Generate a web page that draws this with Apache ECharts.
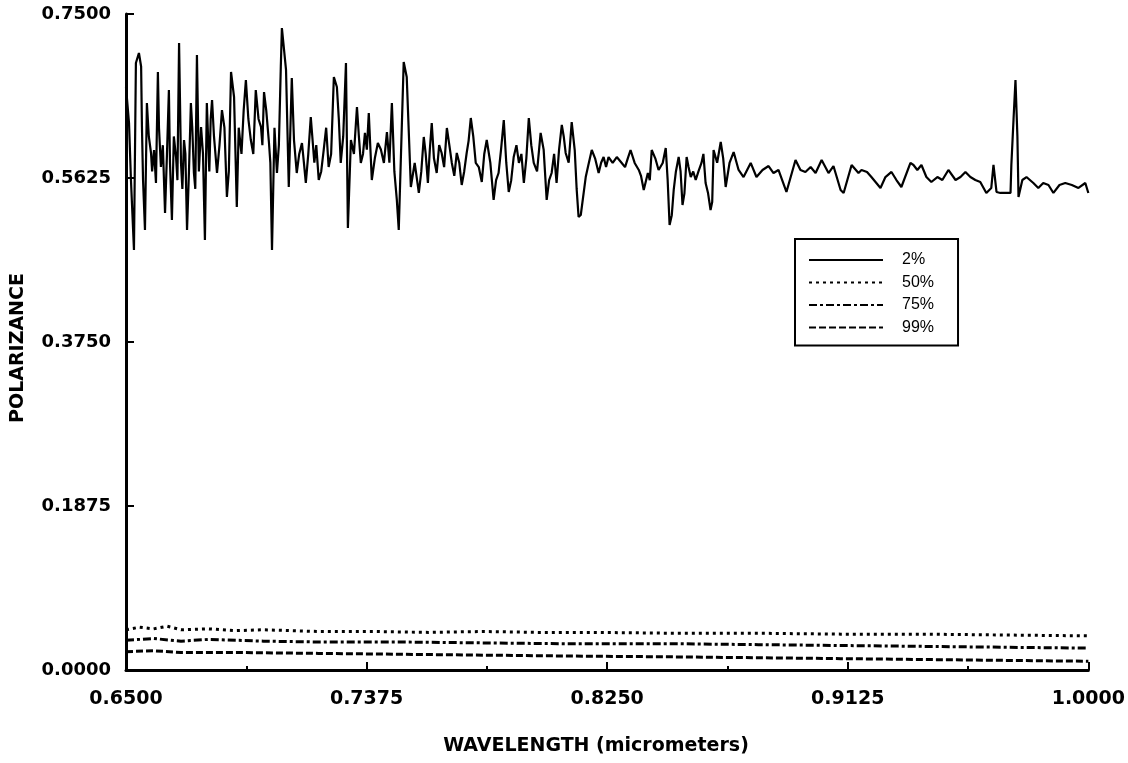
<!DOCTYPE html>
<html>
<head>
<meta charset="utf-8">
<script src="https://cdn.jsdelivr.net/npm/echarts@6/dist/echarts.min.js"></script>
<style>
html,body{margin:0;padding:0;background:#fff;}
#chart{width:1128px;height:763px;}
</style>
</head>
<body>
<div id="chart"></div>
<script>
// ---- data (wavelength in micrometers, polarizance) ----
const xTickValues = [0.65, 0.7375, 0.825, 0.9125, 1.0];
const xMinorTickValues = [0.69375, 0.78125, 0.86875, 0.95625];
const seriesNames = ['2%', '50%', '75%', '99%'];

const pol2 = [
[0.6500,0.6665],[0.6511,0.6254],[0.6518,0.5602],[0.6529,0.4802],[0.6536,0.6940],[0.6547,0.7054],[0.6555,0.6900],
[0.6558,0.6208],[0.6562,0.5600],[0.6569,0.5031],[0.6576,0.6483],[0.6583,0.6100],[0.6591,0.5911],[0.6595,0.5700],
[0.6602,0.5945],[0.6609,0.5568],[0.6616,0.6837],[0.6620,0.6200],[0.6627,0.5751],[0.6634,0.6000],[0.6642,0.5225],
[0.6649,0.5900],[0.6656,0.6631],[0.6660,0.5800],[0.6667,0.5145],[0.6674,0.6100],[0.6682,0.5865],[0.6687,0.5600],
[0.6693,0.7168],[0.6700,0.5797],[0.6705,0.5500],[0.6711,0.6059],[0.6716,0.5900],[0.6722,0.5031],[0.6729,0.5700],
[0.6736,0.6483],[0.6741,0.6200],[0.6747,0.5682],[0.6752,0.5500],[0.6758,0.7031],[0.6765,0.5700],[0.6773,0.6208],
[0.6780,0.5900],[0.6787,0.4916],[0.6794,0.6483],[0.6803,0.5700],[0.6808,0.6300],[0.6813,0.6517],[0.6820,0.6100],
[0.6831,0.5682],[0.6840,0.6000],[0.6849,0.6402],[0.6858,0.6200],[0.6867,0.5408],[0.6874,0.5700],[0.6882,0.6837],
[0.6893,0.6551],[0.6903,0.5293],[0.6910,0.6200],[0.6920,0.5900],[0.6928,0.6400],[0.6936,0.6745],[0.6945,0.6300],
[0.6954,0.6059],[0.6963,0.5900],[0.6972,0.6631],[0.6982,0.6300],[0.6991,0.6208],[0.6996,0.6000],[0.7002,0.6608],
[0.7010,0.6400],[0.7020,0.6025],[0.7025,0.5800],[0.7031,0.4802],[0.7040,0.6200],[0.7049,0.5682],[0.7056,0.6000],
[0.7063,0.6894],[0.7067,0.7340],[0.7082,0.6860],[0.7092,0.5522],[0.7103,0.6768],[0.7111,0.6059],[0.7121,0.5682],
[0.7130,0.5900],[0.7140,0.6025],[0.7147,0.5800],[0.7154,0.5568],[0.7163,0.5900],[0.7172,0.6322],[0.7185,0.5800],
[0.7192,0.6000],[0.7201,0.5602],[0.7210,0.5700],[0.7219,0.5945],[0.7228,0.6200],[0.7237,0.5751],[0.7246,0.5900],
[0.7256,0.6780],[0.7267,0.6665],[0.7274,0.6300],[0.7281,0.5797],[0.7290,0.6100],[0.7300,0.6940],[0.7307,0.5053],
[0.7318,0.6059],[0.7329,0.5900],[0.7340,0.6437],[0.7347,0.6100],[0.7354,0.5797],[0.7362,0.5900],[0.7369,0.6140],
[0.7376,0.5950],[0.7383,0.6368],[0.7394,0.5602],[0.7405,0.5850],[0.7416,0.6025],[0.7427,0.5950],[0.7438,0.5797],
[0.7449,0.6150],[0.7458,0.5800],[0.7467,0.6483],[0.7476,0.5700],[0.7485,0.5374],[0.7492,0.5031],[0.7510,0.6951],
[0.7521,0.6780],[0.7536,0.5522],[0.7550,0.5797],[0.7565,0.5454],[0.7574,0.5700],[0.7583,0.6094],[0.7590,0.5900],
[0.7598,0.5568],[0.7605,0.5950],[0.7612,0.6254],[0.7620,0.5850],[0.7630,0.5682],[0.7639,0.6000],[0.7648,0.5911],
[0.7657,0.5750],[0.7667,0.6197],[0.7676,0.6000],[0.7685,0.5797],[0.7694,0.5650],[0.7703,0.5911],[0.7712,0.5800],
[0.7721,0.5545],[0.7730,0.5700],[0.7739,0.5911],[0.7746,0.6050],[0.7754,0.6311],[0.7763,0.6100],[0.7772,0.5797],
[0.7783,0.5750],[0.7794,0.5579],[0.7803,0.5900],[0.7812,0.6059],[0.7825,0.5800],[0.7837,0.5374],[0.7846,0.5600],
[0.7855,0.5682],[0.7864,0.5950],[0.7874,0.6288],[0.7883,0.5800],[0.7892,0.5465],[0.7901,0.5600],[0.7910,0.5865],
[0.7920,0.6000],[0.7929,0.5797],[0.7938,0.5900],[0.7947,0.5568],[0.7956,0.5850],[0.7965,0.6311],[0.7974,0.6000],
[0.7983,0.5797],[0.7995,0.5700],[0.8008,0.6140],[0.8019,0.5950],[0.8030,0.5374],[0.8039,0.5600],[0.8048,0.5682],
[0.8057,0.5900],[0.8066,0.5568],[0.8075,0.5950],[0.8085,0.6231],[0.8092,0.6100],[0.8099,0.5911],[0.8110,0.5800],
[0.8121,0.6265],[0.8132,0.5945],[0.8139,0.5500],[0.8146,0.5179],[0.8154,0.5202],[0.8172,0.5636],[0.8180,0.5750],
[0.8194,0.5945],[0.8206,0.5850],[0.8219,0.5682],[0.8228,0.5800],[0.8237,0.5865],[0.8246,0.5750],[0.8255,0.5865],
[0.8270,0.5797],[0.8285,0.5865],[0.8303,0.5797],[0.8315,0.5750],[0.8325,0.5850],[0.8335,0.5945],[0.8350,0.5797],
[0.8365,0.5717],[0.8373,0.5650],[0.8383,0.5488],[0.8398,0.5682],[0.8405,0.5600],[0.8412,0.5945],[0.8425,0.5850],
[0.8437,0.5717],[0.8452,0.5797],[0.8463,0.5968],[0.8470,0.5600],[0.8477,0.5088],[0.8485,0.5200],[0.8492,0.5488],
[0.8500,0.5700],[0.8510,0.5865],[0.8517,0.5700],[0.8524,0.5316],[0.8531,0.5450],[0.8539,0.5865],[0.8546,0.5750],
[0.8554,0.5636],[0.8563,0.5700],[0.8572,0.5602],[0.8582,0.5700],[0.8593,0.5797],[0.8600,0.5900],[0.8608,0.5568],
[0.8617,0.5450],[0.8626,0.5259],[0.8632,0.5350],[0.8637,0.5945],[0.8650,0.5800],[0.8663,0.6037],[0.8672,0.5850],
[0.8681,0.5522],[0.8695,0.5797],[0.8710,0.5922],[0.8728,0.5717],[0.8746,0.5636],[0.8772,0.5797],[0.8793,0.5636],
[0.8815,0.5717],[0.8837,0.5762],[0.8855,0.5682],[0.8873,0.5717],[0.8902,0.5465],[0.8935,0.5831],[0.8953,0.5717],
[0.8971,0.5694],[0.8990,0.5751],[0.9008,0.5682],[0.9030,0.5831],[0.9055,0.5682],[0.9073,0.5762],[0.9099,0.5488],
[0.9110,0.5454],[0.9139,0.5774],[0.9164,0.5682],[0.9175,0.5717],[0.9195,0.5694],[0.9211,0.5636],[0.9244,0.5511],
[0.9262,0.5636],[0.9284,0.5694],[0.9302,0.5602],[0.9320,0.5522],[0.9353,0.5797],[0.9364,0.5774],[0.9378,0.5717],
[0.9393,0.5774],[0.9411,0.5636],[0.9429,0.5579],[0.9451,0.5636],[0.9469,0.5602],[0.9491,0.5717],[0.9517,0.5602],
[0.9535,0.5636],[0.9553,0.5694],[0.9571,0.5636],[0.9589,0.5602],[0.9607,0.5579],[0.9629,0.5454],[0.9647,0.5511],
[0.9655,0.5774],[0.9662,0.5774],[0.9666,0.5465],[0.9680,0.5454],[0.9717,0.5454],[0.9720,0.5774],[0.9728,0.6300],
[0.9735,0.6745],[0.9742,0.6100],[0.9746,0.5408],[0.9760,0.5602],[0.9775,0.5636],[0.9800,0.5568],[0.9818,0.5511],
[0.9836,0.5568],[0.9855,0.5545],[0.9873,0.5454],[0.9895,0.5545],[0.9916,0.5568],[0.9940,0.5545],[0.9964,0.5511],
[0.9989,0.5568],[1.0000,0.5454]
];

const pol50 = [
[0.650,0.046],[0.655,0.049],[0.660,0.047],[0.665,0.050],[0.670,0.046],[0.680,0.047],[0.690,0.045],[0.700,0.046],
[0.720,0.044],[0.740,0.044],[0.760,0.043],[0.780,0.044],[0.800,0.043],[0.820,0.043],[0.850,0.042],[0.880,0.042],
[0.910,0.041],[0.940,0.041],[0.970,0.040],[1.000,0.039]
];
const pol75 = [
[0.650,0.034],[0.660,0.036],[0.670,0.033],[0.680,0.035],[0.700,0.033],[0.720,0.032],[0.750,0.032],[0.780,0.031],
[0.810,0.030],[0.850,0.030],[0.880,0.029],[0.910,0.028],[0.940,0.027],[0.970,0.026],[1.000,0.025]
];
const pol99 = [
[0.650,0.021],[0.660,0.022],[0.670,0.020],[0.690,0.020],[0.720,0.019],[0.750,0.018],[0.780,0.017],[0.810,0.016],
[0.850,0.015],[0.880,0.014],[0.910,0.013],[0.940,0.012],[0.970,0.011],[1.000,0.010]
];

const FONT = 'DejaVu Sans';
const chart = echarts.init(document.getElementById('chart'));

function lineSeries(name, data, type, width) {
  return {
    name: name, type: 'line', data: data, xAxisIndex: 0, yAxisIndex: 0,
    symbol: 'none', showSymbol: false, animation: false, silent: true,
    lineStyle: {color: '#000', width: width, type: type, cap: 'butt'},
    itemStyle: {color: '#000'}
  };
}

chart.setOption({
  backgroundColor: '#fff',
  animation: false,
  grid: {left: 126, right: 38, top: 14, bottom: 93},
  legend: {
    left: 795, top: 239,
    orient: 'vertical',
    data: seriesNames,
    itemWidth: 74, itemHeight: 14, itemGap: 6.5,
    borderColor: '#000', borderWidth: 2, borderRadius: 0,
    padding: [13, 24, 10, 13],
    itemStyle: {opacity: 0},
    textStyle: {fontFamily: 'Liberation Sans', fontSize: 16, color: '#000', padding: [0, 0, 0, 14]},
    selectedMode: false
  },
  xAxis: [{
    type: 'value', min: 0.65, max: 1.0,
    axisLine: {show: true, lineStyle: {color: '#000', width: 3}},
    axisTick: {show: true, inside: true, length: 8, lineStyle: {color: '#000', width: 2}, customValues: xTickValues},
    axisLabel: {
      show: true, customValues: xTickValues, margin: 20,
      fontFamily: FONT, fontWeight: 'bold', fontSize: 19, color: '#000',
      formatter: v => v.toFixed(4)
    },
    splitLine: {show: false}
  }, {
    type: 'value', min: 0.65, max: 1.0, position: 'bottom',
    axisLine: {show: false},
    axisTick: {show: true, inside: true, length: 4, lineStyle: {color: '#000', width: 2}, customValues: xMinorTickValues},
    axisLabel: {show: false},
    splitLine: {show: false}
  }],
  yAxis: {
    type: 'value', min: 0, max: 0.75, interval: 0.1875,
    axisLine: {show: true, lineStyle: {color: '#000', width: 3}},
    axisTick: {show: true, inside: true, length: 8, lineStyle: {color: '#000', width: 2}},
    axisLabel: {
      margin: 15, fontFamily: FONT, fontWeight: 'bold', fontSize: 18, color: '#000',
      formatter: v => v.toFixed(4)
    },
    splitLine: {show: false}
  },
  graphic: [
    {type: 'text', x: 596, y: 746, style: {text: 'WAVELENGTH (micrometers)', fontFamily: FONT, fontWeight: 'bold', fontSize: 19, fill: '#000', align: 'center', verticalAlign: 'middle'}},
    {type: 'text', x: 18, y: 348, rotation: Math.PI / 2, style: {text: 'POLARIZANCE', fontFamily: FONT, fontWeight: 'bold', fontSize: 19, fill: '#000', align: 'center', verticalAlign: 'middle'}}
  ],
  series: [
    lineSeries('2%', pol2, 'solid', 2.2),
    lineSeries('50%', pol50, [3, 4], 3),
    lineSeries('75%', pol75, [8, 3, 3, 3], 3),
    lineSeries('99%', pol99, [7, 3], 3)
  ]
});
</script>
</body>
</html>
